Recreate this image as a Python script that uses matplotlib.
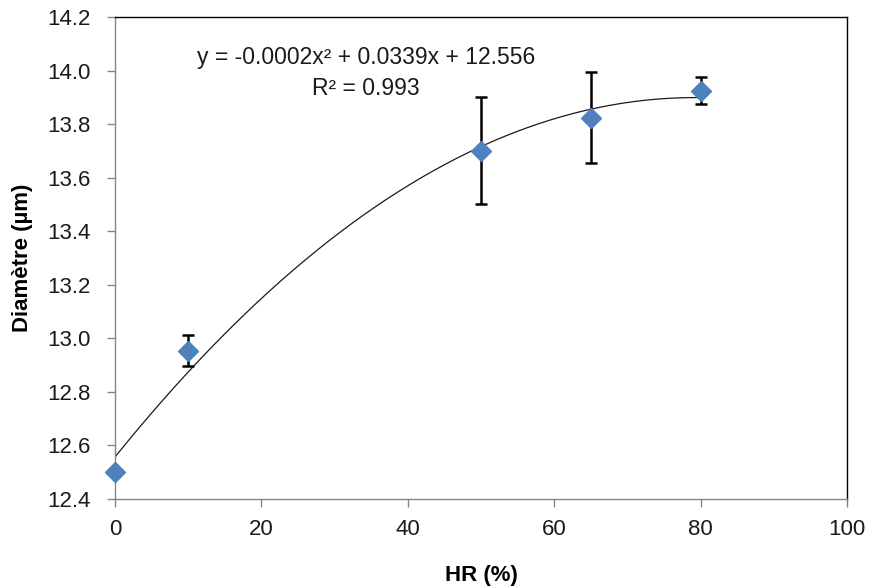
import numpy as np
import matplotlib
matplotlib.use('Agg')
from matplotlib import pyplot as plt
from matplotlib.ticker import FormatStrFormatter

# Données
hr = [0, 10, 50, 65, 80]
diametre = [12.50, 12.953, 13.70, 13.824, 13.925]
erreur = [0.0, 0.058, 0.20, 0.17, 0.05]

equation = 'y = -0.0002x² + 0.0339x + 12.556'
r2_texte = 'R² = 0.993'

plt.rcParams['font.family'] = ['Liberation Sans', 'DejaVu Sans']

fig = plt.figure(figsize=(8.69, 5.88), dpi=100)
ax = fig.add_axes([115 / 869, 1 - 499 / 588, (847 - 115) / 869, (499 - 17) / 588])

# Courbe de tendance polynomiale (ordre 2)
coef = np.polyfit(hr, diametre, 2)
xs = np.linspace(min(hr), max(hr), 200)
ax.plot(xs, np.polyval(coef, xs), color='#1a1a1a', lw=0.9, zorder=2)

ax.errorbar(hr, diametre, yerr=erreur, fmt='none', ecolor='black',
            elinewidth=1.8, capsize=4.3, capthick=1.8, zorder=3)
ax.plot(hr, diametre, linestyle='none', marker='D', markersize=10,
        color='#4F81BD', markeredgecolor='#4F81BD', zorder=4, clip_on=False)

ax.set_xlim(0, 100)
ax.set_ylim(12.4, 14.2)
ax.set_xticks(np.arange(0, 101, 20))
ax.set_yticks(np.arange(12.4, 14.21, 0.2))
ax.yaxis.set_major_formatter(FormatStrFormatter('%.1f'))

for side in ['left', 'bottom']:
    ax.spines[side].set_color('#868686')
    ax.spines[side].set_linewidth(1.0)
for side in ['top', 'right']:
    ax.spines[side].set_color('black')
    ax.spines[side].set_linewidth(1.0)

ax.tick_params(direction='out', length=5.5, width=1, color='#868686',
               labelsize=16, labelcolor='#1a1a1a')
ax.tick_params(axis='y', pad=12)
ax.tick_params(axis='x', pad=9)

ax.set_xlabel('HR (%)', fontsize=16, fontweight='bold', va='center')
ax.xaxis.set_label_coords(0.5, (499 - 575) / 482)
ax.set_ylabel('Diamètre (µm)', fontsize=16, fontweight='bold', va='center')
ax.yaxis.set_label_coords((23 - 115) / 732, 0.5)

ax.text(0.343, 0.917, equation, transform=ax.transAxes, ha='center', va='center', fontsize=16.5, color='#1a1a1a')
ax.text(0.343, 0.851, r2_texte, transform=ax.transAxes, ha='center', va='center', fontsize=16.5, color='#1a1a1a')

fig.savefig('out.png', dpi=100)
